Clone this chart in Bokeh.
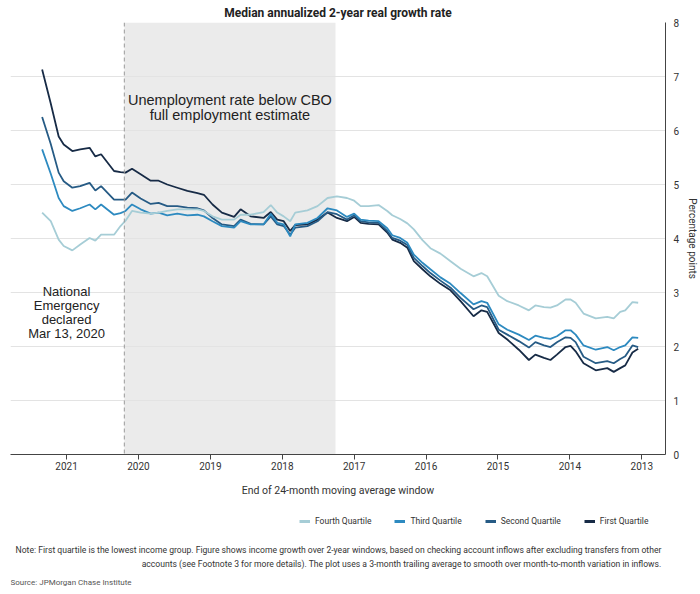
from bokeh.plotting import figure
from bokeh.layouts import column
from bokeh.models import Range1d, FixedTicker, Span, BoxAnnotation, Label, Legend, LegendItem
from bokeh.embed import file_html
from bokeh.resources import INLINE

# ---------------- data ----------------
dates = [2021.34, 2021.22, 2021.11, 2021.04, 2020.92, 2020.81, 2020.68, 2020.60, 2020.52, 2020.34,
         2020.25, 2020.18, 2020.09, 2019.97, 2019.83, 2019.72, 2019.60, 2019.46, 2019.32, 2019.18,
         2019.09, 2018.97, 2018.84, 2018.67, 2018.58, 2018.44, 2018.26, 2018.16, 2018.07, 2017.98,
         2017.89, 2017.82, 2017.65, 2017.51, 2017.37, 2017.24, 2017.10, 2017.00, 2016.91, 2016.80,
         2016.66, 2016.54, 2016.47, 2016.36, 2016.26, 2016.17, 2016.05, 2015.94, 2015.80, 2015.66,
         2015.52, 2015.34, 2015.23, 2015.15, 2014.99, 2014.87, 2014.71, 2014.57, 2014.48, 2014.36,
         2014.27, 2014.18, 2014.06, 2013.99, 2013.92, 2013.81, 2013.64, 2013.48, 2013.39, 2013.30,
         2013.23, 2013.13, 2013.05]

first_quartile = [7.13, 6.50, 5.89, 5.74, 5.62, 5.65, 5.68, 5.52, 5.56, 5.25,
                  5.23, 5.22, 5.29, 5.19, 5.07, 5.07, 5.00, 4.94, 4.88, 4.84,
                  4.81, 4.63, 4.48, 4.40, 4.54, 4.41, 4.38, 4.49, 4.35, 4.32,
                  4.14, 4.25, 4.26, 4.35, 4.48, 4.38, 4.32, 4.40, 4.29, 4.27,
                  4.26, 4.11, 3.98, 3.92, 3.83, 3.58, 3.43, 3.30, 3.16, 3.04,
                  2.84, 2.56, 2.67, 2.64, 2.25, 2.13, 1.94, 1.75, 1.85, 1.79,
                  1.75, 1.85, 1.99, 2.01, 1.91, 1.69, 1.56, 1.60, 1.53, 1.60,
                  1.65, 1.89, 1.96]

second_quartile = [6.25, 5.75, 5.22, 5.06, 4.94, 4.97, 5.03, 4.89, 4.97, 4.72,
                   4.72, 4.72, 4.85, 4.74, 4.64, 4.66, 4.60, 4.60, 4.57, 4.56,
                   4.52, 4.38, 4.26, 4.23, 4.35, 4.27, 4.26, 4.41, 4.26, 4.23,
                   4.07, 4.20, 4.23, 4.32, 4.49, 4.45, 4.35, 4.43, 4.32, 4.30,
                   4.29, 4.14, 4.01, 3.96, 3.88, 3.64, 3.49, 3.36, 3.22, 3.09,
                   2.90, 2.69, 2.76, 2.73, 2.31, 2.22, 2.10, 1.98, 2.08, 2.02,
                   1.99, 2.08, 2.17, 2.16, 2.08, 1.81, 1.69, 1.73, 1.69, 1.77,
                   1.82, 2.02, 1.99]

third_quartile = [5.65, 5.20, 4.75, 4.60, 4.51, 4.56, 4.63, 4.54, 4.63, 4.44,
                  4.47, 4.51, 4.63, 4.54, 4.46, 4.48, 4.43, 4.46, 4.43, 4.44,
                  4.41, 4.32, 4.23, 4.20, 4.32, 4.26, 4.26, 4.46, 4.29, 4.26,
                  4.04, 4.26, 4.29, 4.38, 4.56, 4.52, 4.40, 4.46, 4.35, 4.33,
                  4.32, 4.19, 4.06, 4.01, 3.92, 3.70, 3.55, 3.43, 3.28, 3.16,
                  2.99, 2.78, 2.84, 2.81, 2.41, 2.31, 2.22, 2.12, 2.20, 2.16,
                  2.14, 2.19, 2.30, 2.30, 2.22, 2.02, 1.94, 1.99, 1.93, 1.99,
                  2.02, 2.17, 2.16]

fourth_quartile = [4.48, 4.32, 3.98, 3.86, 3.78, 3.89, 4.01, 3.96, 4.07, 4.07,
                   4.23, 4.33, 4.51, 4.48, 4.46, 4.48, 4.51, 4.54, 4.54, 4.54,
                   4.51, 4.41, 4.35, 4.35, 4.44, 4.44, 4.49, 4.62, 4.48, 4.41,
                   4.32, 4.48, 4.52, 4.60, 4.75, 4.78, 4.75, 4.70, 4.60, 4.60,
                   4.62, 4.51, 4.43, 4.36, 4.28, 4.17, 3.97, 3.82, 3.72, 3.58,
                   3.44, 3.30, 3.36, 3.30, 2.94, 2.84, 2.76, 2.67, 2.76, 2.73,
                   2.72, 2.76, 2.87, 2.87, 2.81, 2.61, 2.52, 2.55, 2.52, 2.64,
                   2.67, 2.82, 2.81]

series_names = ["First Quartile", "Second Quartile", "Third Quartile", "Fourth Quartile"]
year_ticks = [2013, 2014, 2015, 2016, 2017, 2018, 2019, 2020, 2021]
y_ticks = [0, 1, 2, 3, 4, 5, 6, 7, 8]

shade_start = 2017.26          # unemployment below CBO full-employment estimate
emergency_date = 2020.197      # Mar 13, 2020

title_text = "Median annualized 2-year real growth rate"
x_label = "End of 24-month moving average window"
y_label = "Percentage points"
shade_text = ["Unemployment rate below CBO", "full employment estimate"]
emergency_text = ["National", "Emergency", "declared", "Mar 13, 2020"]
note_lines = ["Note: First quartile is the lowest income group. Figure shows income growth over 2-year windows, based on checking  account inflows after excluding transfers from other",
              "accounts (see Footnote 3 for more details). The plot uses  a 3-month trailing average to smooth over month-to-month variation in inflows."]
source_text = "Source: JPMorgan Chase Institute"

# ---------------- style ----------------
COLORS = ["#172b46", "#265b85", "#2d8ac0", "#a6cdd6"]
FONT = "Roboto"
SANS = "Liberation Sans"
TXT = "#333333"
FRAME_L, FRAME_W, FRAME_R = 10, 655, 35

p = figure(frame_width=FRAME_W, frame_height=432,
           x_range=Range1d(2021.78, 2012.67), y_range=Range1d(0, 8),
           y_axis_location="right",
           output_backend="svg", toolbar_location=None,
           min_border_left=FRAME_L, min_border_right=FRAME_R, min_border_top=22, min_border_bottom=46,
           background_fill_color="white", border_fill_color="white")
p.outline_line_color = None

# title
p.title.text = title_text
p.title.align = "center"
p.title.text_font = FONT
p.title.text_font_size = "12px"
p.title.text_font_style = "bold"
p.title.text_color = "#222222"
p.title.standoff = 6

# shading + dashed line
p.add_layout(BoxAnnotation(left=shade_start, right=emergency_date, fill_color="#ebebeb",
                           fill_alpha=1.0, line_color=None, level="image"))
p.add_layout(Span(location=emergency_date, dimension="height", line_color="#9a9a9a",
                  line_dash="4 3", line_width=1))

# axes
xa = p.xaxis[0]
xa.ticker = FixedTicker(ticks=year_ticks)
xa.major_label_overrides = {y: str(y) for y in year_ticks}
xa.minor_tick_line_color = None
xa.major_tick_out = 5
xa.major_tick_in = 0
xa.axis_line_color = "#444444"
xa.major_tick_line_color = "#444444"
xa.major_label_text_font = FONT
xa.major_label_text_font_size = "10px"
xa.major_label_text_color = TXT
xa.major_label_standoff = 2
xa.axis_label = x_label
xa.axis_label_text_font = FONT
xa.axis_label_text_font_size = "10.5px"
xa.axis_label_text_font_style = "normal"
xa.axis_label_text_color = TXT
xa.axis_label_standoff = 11

ya = p.yaxis[0]
ya.ticker = FixedTicker(ticks=y_ticks)
ya.minor_tick_line_color = None
ya.major_tick_out = 0
ya.major_tick_in = 0
ya.axis_line_color = "#444444"
ya.major_label_text_font = FONT
ya.major_label_text_font_size = "10px"
ya.major_label_text_color = TXT
ya.major_label_standoff = 8
ya.axis_label = y_label
ya.axis_label_text_font = FONT
ya.axis_label_text_font_size = "10px"
ya.axis_label_text_font_style = "normal"
ya.axis_label_text_color = TXT
ya.axis_label_standoff = 5

p.xgrid.visible = False
p.ygrid.ticker = FixedTicker(ticks=y_ticks)
p.ygrid.grid_line_color = "#e3e3e3"
p.ygrid.grid_line_width = 1

# lines
series_values = [first_quartile, second_quartile, third_quartile, fourth_quartile]
for vals, col in zip(series_values, COLORS):
    p.line(dates, vals, line_color=col, line_width=1.8)

# annotations in data space
mid_shade = (shade_start + emergency_date) / 2
for txt, yv in zip(shade_text, [6.56, 6.28]):
    p.add_layout(Label(x=mid_shade, y=yv, text=txt, text_align="center", text_baseline="middle",
                       text_font=SANS, text_font_size="14.5px", text_color="#222222"))
for txt, yv in zip(emergency_text, [3.02, 2.76, 2.50, 2.24]):
    p.add_layout(Label(x=2021.0, y=yv, text=txt, text_align="center", text_baseline="middle",
                       text_font=SANS, text_font_size="13px", text_color="#222222"))

# ---------------- footer panel: legend + notes ----------------
# (its frame is aligned with the chart frame, so x runs in page pixels FRAME_L .. FRAME_L+FRAME_W)
FOOT_H = 94
f = figure(width=FRAME_L + FRAME_W + FRAME_R, height=FOOT_H,
           x_range=Range1d(FRAME_L, FRAME_L + FRAME_W), y_range=Range1d(FOOT_H, 0),
           output_backend="svg", toolbar_location=None,
           min_border=0, min_border_left=FRAME_L, min_border_right=FRAME_R,
           background_fill_color="white", border_fill_color="white")
f.outline_line_color = None
f.axis.visible = False
f.grid.visible = False

nan = float("nan")
legend_renderers = [f.line(x=[nan], y=[nan], line_color=col, line_width=3) for col in COLORS]
items = [LegendItem(label=series_names[i], renderers=[legend_renderers[i]]) for i in [3, 2, 1, 0]]
legend = Legend(items=items, orientation="horizontal", location=(289, FOOT_H - 27),
                padding=0, margin=0, spacing=23, glyph_width=11, glyph_height=12,
                label_height=12, label_standoff=5, border_line_color=None,
                background_fill_alpha=0.0,
                label_text_font=FONT, label_text_font_size="8.5px", label_text_color=TXT)
f.add_layout(legend, "center")

for txt, yv in zip(note_lines, [49, 63]):
    f.add_layout(Label(x=664, y=yv, text=txt, text_align="right", text_baseline="middle",
                       text_font=FONT, text_font_size="8.6px", text_color=TXT))
f.add_layout(Label(x=10, y=82, text=source_text, text_align="left", text_baseline="middle",
                   text_font=FONT, text_font_size="8px", text_color="#555555"))

layout = column(p, f, spacing=0)
open("out.html", "w").write(file_html(layout, INLINE))
